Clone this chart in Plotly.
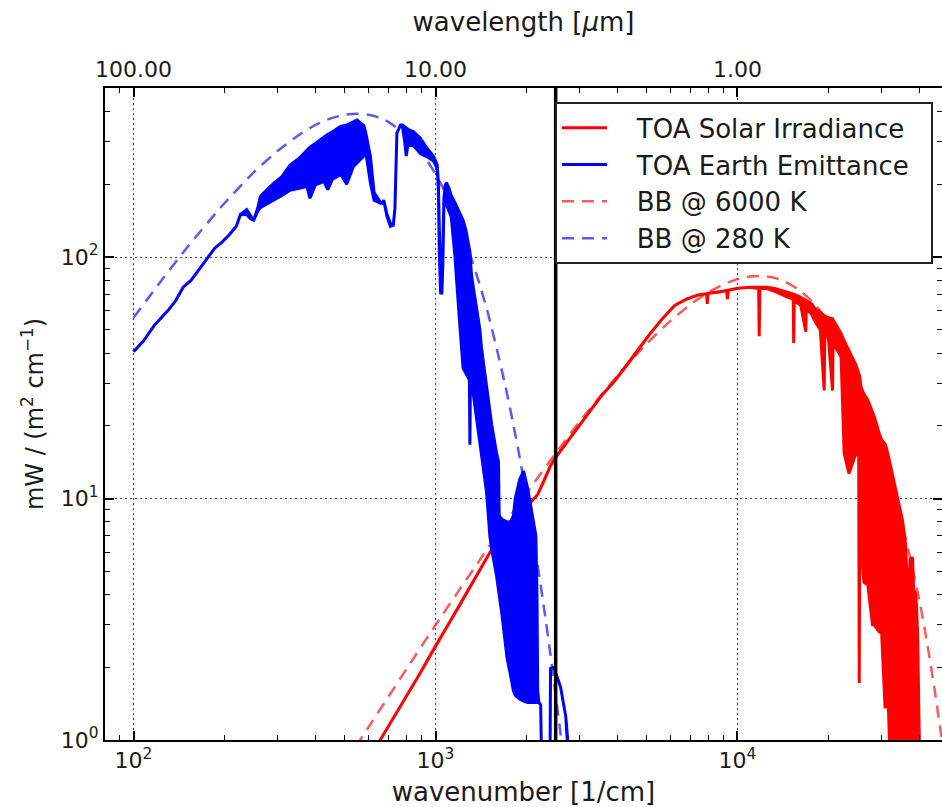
import plotly.graph_objects as go

# ---------------- data ----------------
# TOA Earth emittance (blue): wavenumber, upper envelope, lower envelope
blue_k = [100, 108, 117, 124, 130, 138, 146, 155, 166, 176, 186, 196, 208, 219, 226,
          237, 244, 250, 258, 263, 277, 291, 310, 330, 352, 375, 384, 400, 427, 440,
          456, 472, 485, 508, 535, 550, 563, 579, 588, 609, 626, 658, 665, 674, 691,
          709, 725, 734, 745, 766, 776, 791, 800, 810, 846, 891, 938, 987, 1013, 1022,
          1030, 1040, 1050, 1058, 1066, 1077, 1087, 1110, 1128, 1160, 1200, 1234, 1260, 1295, 1300,
          1305, 1315, 1334, 1368, 1403, 1420, 1476, 1515, 1534, 1592, 1616, 1625, 1660, 1725, 1780,
          1811, 1837, 1900, 1958, 2020, 2063, 2115, 2150, 2168, 2180, 2200, 2230, 2245, 2300, 2390,
          2404, 2465, 2594, 2700, 2735, 2760]
blue_hi = [40.5, 45, 52, 56, 60, 66, 75, 80, 90, 99, 109, 115, 124, 134, 150,
           157, 148, 142, 160, 178, 190, 202, 215, 240, 255, 277, 285, 295, 314, 322,
           330, 338, 347, 352, 362, 369, 360, 350, 326, 260, 185, 168, 167, 172, 150,
           138, 136, 159, 326, 352, 352, 345, 340, 338, 330, 310, 282, 260, 240, 205,
           130, 76, 72, 105, 175, 198, 203, 192, 180, 168, 153, 142, 130, 108, 105,
           98, 85, 75, 60, 50, 42, 29, 22, 20.3, 15.5, 14.2, 8.5, 8.2, 8.0, 8.0,
           8.5, 10, 12, 13, 11, 9.5, 8.0, 7.0, 4.0, 1.6, 1.43, 1.4, 0.8, 0.5, 0.5,
           1.98, 2.0, 1.66, 1.25, 1.03, 0.8]
blue_lo = [40.5, 45, 52, 56, 60, 66, 75, 80, 90, 99, 109, 115, 124, 134, 150,
           150, 144, 142, 155, 160, 165, 172, 180, 189, 193, 196, 175, 199, 205, 190,
           210, 215, 220, 200, 237, 245, 252, 262, 270, 202, 172, 167, 167, 172, 147,
           134, 136, 159, 326, 352, 352, 300, 262, 290, 289, 268, 260, 249, 232, 190,
           100, 71, 71, 95, 160, 175, 165, 155, 146, 100, 55, 34.7, 33, 31, 16.7,
           30, 29, 27, 22, 17, 15, 10.6, 6.9, 6.2, 4.8, 4.2, 4.0, 3.3, 2.19, 1.8,
           1.6, 1.53, 1.48, 1.45, 1.43, 1.43, 1.43, 1.43, 1.43, 1.43, 1.43, 1.4, 0.8, 0.5, 0.5,
           1.98, 2.0, 1.66, 1.25, 1.03, 0.8]

# TOA solar irradiance (red): wavenumber, upper envelope, lower envelope
red_k = [560, 656, 760, 885, 1000, 1200, 1517, 1800, 2061, 2180, 2284, 2400, 2490, 2700, 3034,
         3533, 3906, 4400, 5047, 5600, 6192, 6800, 7400, 7900, 7940, 7990, 8600, 9200, 9260, 9330,
         10040, 11000, 11750, 11800, 11860, 12500, 13300, 14000, 14700, 15300, 15350, 15420, 16200, 16830, 16900,
         17600, 18070, 18800, 19370, 19450, 20000, 20650, 20720, 22030, 22550, 23400, 24680, 25200, 25300, 25400,
         25640, 26240, 27000, 28000, 28380, 29470, 30000, 30800, 31040, 31600, 32400, 32650, 33900, 35200, 36000,
         36500, 37000, 37300, 38000, 38300, 39000, 39500, 40000, 40400]
red_hi = [0.7, 1.0, 1.36, 1.87, 2.45, 3.6, 6.0, 8.3, 9.6, 10.4, 11.8, 13.6, 14.7, 16.8, 20.5,
          26.5, 30.5, 37, 46.8, 55, 63, 67, 69.6, 70.5, 70.5, 70.8, 71.5, 72.5, 72.5, 72.8,
          74.2, 75, 75, 75, 75, 75, 74, 72.5, 71, 70, 70, 70, 68, 66, 66,
          64, 61, 59, 57, 57, 56, 55.5, 55, 48.3, 45, 41, 35.7, 33, 32.5, 32,
          29, 27, 25.6, 22.5, 21.8, 18.6, 17.5, 16.8, 16.4, 15, 13, 12.7, 10.2, 8.1, 6.5,
          4.5, 4.3, 5.6, 5.7, 4.2, 4.0, 2.7, 1.0, 0.5]
red_lo = [0.7, 1.0, 1.36, 1.87, 2.45, 3.6, 6.0, 8.3, 9.6, 10.4, 11.8, 13.6, 14.7, 16.8, 20.5,
          26.5, 30.5, 37, 46.8, 55, 63, 67, 69.6, 70.5, 64, 70.8, 71.5, 72.5, 67, 72.8,
          74.2, 75, 74, 47, 74, 74, 72, 70, 68, 67, 44, 66, 63, 49, 61,
          58, 54, 50, 28, 48, 46, 28, 44, 38.6, 15.4, 12.7, 15.4, 15, 1.72, 8,
          6.1, 4.5, 4.4, 3.0, 3.0, 2.8, 2.8, 1.37, 1.37, 1.37, 0.5, 0.5, 0.5, 0.5, 0.5,
          0.5, 0.5, 0.5, 0.5, 0.5, 0.5, 0.5, 0.5, 0.5]

# Black body curves (dashed)
bb6000_k = [500, 600, 800, 1000, 1500, 2000, 2500, 3000, 4000, 5000, 6000, 7000, 8000, 9000, 10000,
            11000, 12000, 13000, 14000, 16000, 18000, 20000, 22500, 25000, 27500, 30000, 32500, 35000,
            37500, 40000, 42500, 45000, 47000, 48500]
bb6000_v = [0.8, 1.13, 1.96, 2.99, 6.3, 10.5, 15.4, 20.8, 32.2, 43.7, 54.4, 63.7, 71.4, 77.1, 81.0,
            83.0, 83.4, 82.4, 80.2, 73.1, 63.9, 54.0, 42.0, 31.6, 23.1, 16.4, 11.5, 8.0,
            5.5, 3.8, 2.5, 1.6, 1.1, 0.85]
bb280_k = [100, 120, 150, 200, 250, 300, 350, 400, 450, 500, 550, 600, 650, 700, 800,
           900, 1000, 1100, 1200, 1300, 1400, 1500, 1600, 1700, 1800, 1900, 2000, 2100, 2200,
           2300, 2400, 2500, 2600, 2700]
bb280_v = [56, 76, 109, 167, 224, 275, 318, 352, 375, 388, 392, 388, 378, 362, 319,
           270, 221, 175, 136, 103, 77, 57, 41, 29.6, 21, 14.8, 10.3, 7.1, 4.9,
           3.35, 2.28, 1.54, 1.04, 0.7]

divider_k = 2500  # vertical black line (4 um)

# ticks
x_tick_vals = [100, 1000, 10000]
x_tick_text = ["10<sup>2</sup>", "10<sup>3</sup>", "10<sup>4</sup>"]
wl_tick_text = ["100.00", "10.00", "1.00"]
x_minor_vals = [90, 200, 300, 400, 500, 600, 700, 800, 900, 2000, 3000, 4000, 5000, 6000,
                7000, 8000, 9000, 20000, 30000, 40000]
y_tick_vals = [1, 10, 100]
y_tick_text = ["10<sup>0</sup>", "10<sup>1</sup>", "10<sup>2</sup>"]
y_minor_vals = [2, 3, 4, 5, 6, 7, 8, 9, 20, 30, 40, 50, 60, 70, 80, 90, 200, 300, 400, 500]

legend_names = ["TOA Solar Irradiance", "TOA Earth Emittance", "BB @ 6000 K", "BB @ 280 K"]

# ---------------- figure ----------------
RED = "#ff0000"
BLUE = "#0000ff"
RED_D = "rgba(255,0,0,0.65)"
BLUE_D = "rgba(0,0,255,0.65)"
FONT = "DejaVu Sans"
PAD = "&nbsp;&nbsp;&nbsp;"

fig = go.Figure()

fig.add_trace(go.Scatter(x=bb6000_k, y=bb6000_v, mode="lines", name=PAD + legend_names[2],
                         line=dict(color=RED_D, width=2.5, dash="12px,8px", shape="spline", smoothing=0.6),
                         legendrank=3, hoverinfo="skip"))
fig.add_trace(go.Scatter(x=bb280_k, y=bb280_v, mode="lines", name=PAD + legend_names[3],
                         line=dict(color=BLUE_D, width=2.5, dash="12px,8px", shape="spline", smoothing=0.6),
                         legendrank=4, hoverinfo="skip"))

fig.add_trace(go.Scatter(x=red_k + red_k[::-1], y=red_hi + red_lo[::-1], mode="lines",
                         fill="toself", fillcolor=RED, line=dict(color=RED, width=3),
                         showlegend=False, hoverinfo="skip"))
fig.add_trace(go.Scatter(x=blue_k + blue_k[::-1], y=blue_hi + blue_lo[::-1], mode="lines",
                         fill="toself", fillcolor=BLUE, line=dict(color=BLUE, width=3),
                         showlegend=False, hoverinfo="skip"))

# legend entries for the solid spectra
fig.add_trace(go.Scatter(x=[None], y=[None], mode="lines", name=PAD + legend_names[0],
                         line=dict(color=RED, width=3), legendrank=1))
fig.add_trace(go.Scatter(x=[None], y=[None], mode="lines", name=PAD + legend_names[1] + "&nbsp;&nbsp;",
                         line=dict(color=BLUE, width=3), legendrank=2))

# vertical divider
fig.add_trace(go.Scatter(x=[divider_k, divider_k], y=[0.5, 1000], mode="lines",
                         line=dict(color="black", width=3.5), showlegend=False, hoverinfo="skip"))

# invisible trace so the top (wavelength) axis is drawn
fig.add_trace(go.Scatter(x=[100], y=[10], xaxis="x2", mode="markers",
                         marker=dict(opacity=0), showlegend=False, hoverinfo="skip"))

xr = [1.9056, 4.6772]
common_x = dict(type="log", range=xr, tickmode="array", tickvals=x_tick_vals,
                ticks="inside", ticklen=9, tickwidth=1.5, tickcolor="black",
                showline=True, linecolor="black", linewidth=2, zeroline=False, automargin=False,
                minor=dict(tickmode="array", tickvals=x_minor_vals, ticks="inside",
                           ticklen=5, tickwidth=1.2, tickcolor="black", showgrid=False),
                tickfont=dict(size=22, color="#1a1a1a", family=FONT))

fig.update_layout(
    width=942, height=807,
    margin=dict(l=105, r=0, t=88, b=67),
    paper_bgcolor="white", plot_bgcolor="white",
    font=dict(family=FONT, color="#1a1a1a"),
    xaxis=dict(**common_x, ticktext=x_tick_text,
               showgrid=True, gridcolor="#444444", griddash="2px,3px", gridwidth=1.2,
               title=dict(text="wavenumber [1/cm]", font=dict(size=26), standoff=13)),
    xaxis2=dict(**common_x, ticktext=wl_tick_text, overlaying="x", side="top",
                showgrid=False,
                title=dict(text="wavelength [<i>μ</i>m]", font=dict(size=26), standoff=18)),
    yaxis=dict(type="log", range=[0, 2.6998], tickmode="array", tickvals=y_tick_vals,
               ticktext=y_tick_text, ticks="inside", ticklen=9, tickwidth=1.5, tickcolor="black",
               showline=True, linecolor="black", linewidth=2, mirror="ticks", zeroline=False,
               automargin=False,
               showgrid=True, gridcolor="#444444", griddash="2px,3px", gridwidth=1.2,
               minor=dict(tickmode="array", tickvals=y_minor_vals, ticks="inside",
                          ticklen=5, tickwidth=1.2, tickcolor="black", showgrid=False),
               tickfont=dict(size=22, color="#1a1a1a", family=FONT),
               title=dict(text="mW / (m<sup>2</sup> cm<sup>−1</sup>)", font=dict(size=24), standoff=10)),
    legend=dict(x=0.5376, y=0.978, xanchor="left", yanchor="top",
                bgcolor="white", bordercolor="#222222", borderwidth=2,
                font=dict(size=26, family=FONT, color="#1a1a1a"),
                itemwidth=45, tracegroupgap=0),
    showlegend=True,
)

fig.write_html("out.html", config={"displayModeBar": False},
               post_script="document.body.style.margin='0';document.body.style.padding='0';")
